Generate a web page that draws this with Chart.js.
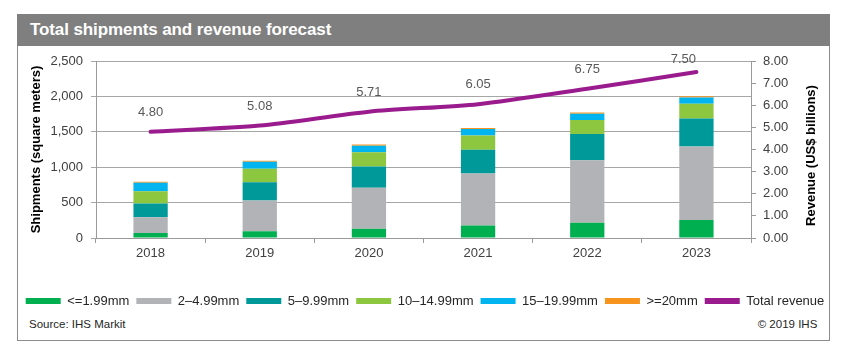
<!DOCTYPE html>
<html>
<head>
<meta charset="utf-8">
<script src="https://cdn.jsdelivr.net/npm/chart.js@4.4.1/dist/chart.umd.min.js"></script>
<style>
  html, body { margin: 0; padding: 0; background: #fff; }
  body { width: 850px; height: 356px; position: relative; overflow: hidden; font-family: 'Liberation Sans', Arial, sans-serif; }
  #frame { position: absolute; left: 17px; top: 14px; width: 813px; height: 327px; border: 1px solid #8c8c8c; box-sizing: border-box; }
  #titlebar { position: absolute; left: 17px; top: 14px; width: 813px; height: 32px; background: #7f7f7f; }
  #title { position: absolute; left: 30px; top: 14px; height: 32px; line-height: 32px; color: #fff; font-weight: bold; font-size: 17px; letter-spacing: -0.1px; white-space: nowrap; }
  .note { position: absolute; top: 317px; font-size: 11.5px; line-height: 14px; color: #262626; white-space: nowrap; }
  #chartwrap { position: absolute; left: 0; top: 0; width: 850px; height: 356px; }
</style>
</head>
<body>
<div id="frame"></div>
<div id="titlebar"></div>
<div id="title">Total shipments and revenue forecast</div>
<div class="note" style="left:29px">Source: IHS Markit</div>
<div class="note" style="right:32.7px">© 2019 IHS</div>
<div id="chartwrap"><canvas id="c" width="850" height="356"></canvas></div>
<script>
// ---- Data ----
const years = ['2018', '2019', '2020', '2021', '2022', '2023'];
const seriesNames = ['<=1.99mm', '2\u20134.99mm', '5\u20139.99mm', '10\u201314.99mm', '15\u201319.99mm', '>=20mm', 'Total revenue'];
const upTo199 = [71, 94, 131, 178, 216, 253];
const from2to499 = [222, 435, 579, 732, 881, 1041];
const from5to999 = [193, 259, 299, 338, 371, 394];
const from10to1499 = [175, 189, 201, 201, 197, 207];
const from15to1999 = [118, 99, 93, 89, 89, 89];
const from20up = [15, 14, 19, 14, 19, 19];
const totalRevenue = [4.80, 5.08, 5.71, 6.05, 6.75, 7.50];
const leftTicks = [0, 500, 1000, 1500, 2000, 2500];
const rightTicks = [0, 1, 2, 3, 4, 5, 6, 7, 8];

// ---- Styles ----
const colors = ['#00B050', '#B2B3B6', '#009999', '#8DC63F', '#00B4F0', '#F7941D', '#9A1B8D'];
const FONT = "'Liberation Sans', Arial, sans-serif";
Chart.defaults.font.family = FONT;
Chart.defaults.font.size = 13;
Chart.defaults.color = '#404040';

const barSeries = [upTo199, from2to499, from5to999, from10to1499, from15to1999, from20up];
const datasets = barSeries.map((arr, i) => ({
  type: 'bar',
  label: seriesNames[i],
  data: arr,
  backgroundColor: colors[i],
  borderWidth: 0,
  yAxisID: 'y',
  stack: 'ship',
  categoryPercentage: 1.0,
  barPercentage: 0.314
}));
datasets.push({
  type: 'line',
  label: seriesNames[6],
  data: totalRevenue,
  borderColor: colors[6],
  backgroundColor: colors[6],
  borderWidth: 4,
  borderCapStyle: 'round',
  borderJoinStyle: 'round',
  pointRadius: 0,
  pointHoverRadius: 0,
  tension: 0.25,
  yAxisID: 'y1'
});

const gridColor = '#A6A6A6';
const axisColor = '#9a9a9a';

const lineLabels = {
  id: 'lineLabels',
  afterDatasetsDraw(chart) {
    const meta = chart.getDatasetMeta(6);
    const ctx = chart.ctx;
    const top = chart.chartArea.top;
    ctx.save();
    ctx.font = '13px ' + FONT;
    ctx.fillStyle = '#595959';
    ctx.textAlign = 'center';
    ctx.textBaseline = 'middle';
    meta.data.forEach((pt, i) => {
      let y = pt.y - 19.5;
      let x = pt.x;
      if (y < top - 2) { y = top - 2; x -= 13; }
      ctx.fillText(totalRevenue[i].toFixed(2), x, y);
    });
    ctx.restore();
  }
};

const rightTitle = {
  id: 'rightTitle',
  afterDraw(chart) {
    const ctx = chart.ctx;
    const ca = chart.chartArea;
    ctx.save();
    ctx.translate(811, (ca.top + ca.bottom) / 2 + 6);
    ctx.rotate(-Math.PI / 2);
    ctx.font = 'bold 13px ' + FONT;
    ctx.fillStyle = '#000';
    ctx.textAlign = 'center';
    ctx.textBaseline = 'middle';
    ctx.fillText('Revenue (US$ billions)', 0, 0);
    ctx.restore();
  }
};

new Chart(document.getElementById('c'), {
  data: { labels: years, datasets },
  options: {
    responsive: false,
    animation: false,
    layout: { padding: { left: 0, right: 0, top: 61, bottom: 38.5 } },
    plugins: {
      tooltip: { enabled: false },
      legend: {
        position: 'bottom',
        align: 'center',
        labels: {
          boxWidth: 35,
          boxHeight: 6,
          padding: 7,
          color: '#262626',
          font: { size: 13 },
          generateLabels(chart) {
            const items = Chart.defaults.plugins.legend.labels.generateLabels(chart);
            items.forEach((it, i) => { it.lineWidth = 0; it.fillStyle = colors[it.datasetIndex]; });
            return items;
          }
        }
      }
    },
    scales: {
      x: {
        stacked: true,
        offset: true,
        afterFit(s) { s.height = 49.5; },
        grid: { offset: true, drawOnChartArea: false, drawTicks: true, tickLength: 5, color: axisColor },
        border: { color: axisColor, width: 1 },
        ticks: { color: '#404040', padding: 3, font: { size: 13 }, maxRotation: 0 }
      },
      y: {
        position: 'left',
        stacked: true,
        min: 0,
        max: 2500,
        afterFit(s) { s.width = 96; },
        afterBuildTicks(s) { s.ticks = leftTicks.map(v => ({ value: v })); },
        grid: { color: gridColor, tickLength: 5, lineWidth: 1 },
        border: { color: axisColor, width: 1 },
        ticks: {
          padding: 8,
          color: '#404040',
          font: { size: 13 },
          callback: v => Number(v).toLocaleString('en-US')
        },
        title: {
          display: true,
          text: 'Shipments (square meters)',
          color: '#000',
          font: { size: 13, weight: 'bold' },
          padding: { top: 29, bottom: 0 }
        }
      },
      y1: {
        position: 'right',
        min: 0,
        max: 8,
        afterFit(s) { s.width = 99; },
        afterBuildTicks(s) { s.ticks = rightTicks.map(v => ({ value: v })); },
        grid: { drawOnChartArea: false, tickLength: 5, color: axisColor },
        border: { color: axisColor, width: 1 },
        ticks: {
          padding: 7,
          color: '#404040',
          font: { size: 13 },
          callback: v => Number(v).toFixed(2)
        }
      }
    }
  },
  plugins: [lineLabels, rightTitle]
});
</script>
</body>
</html>
